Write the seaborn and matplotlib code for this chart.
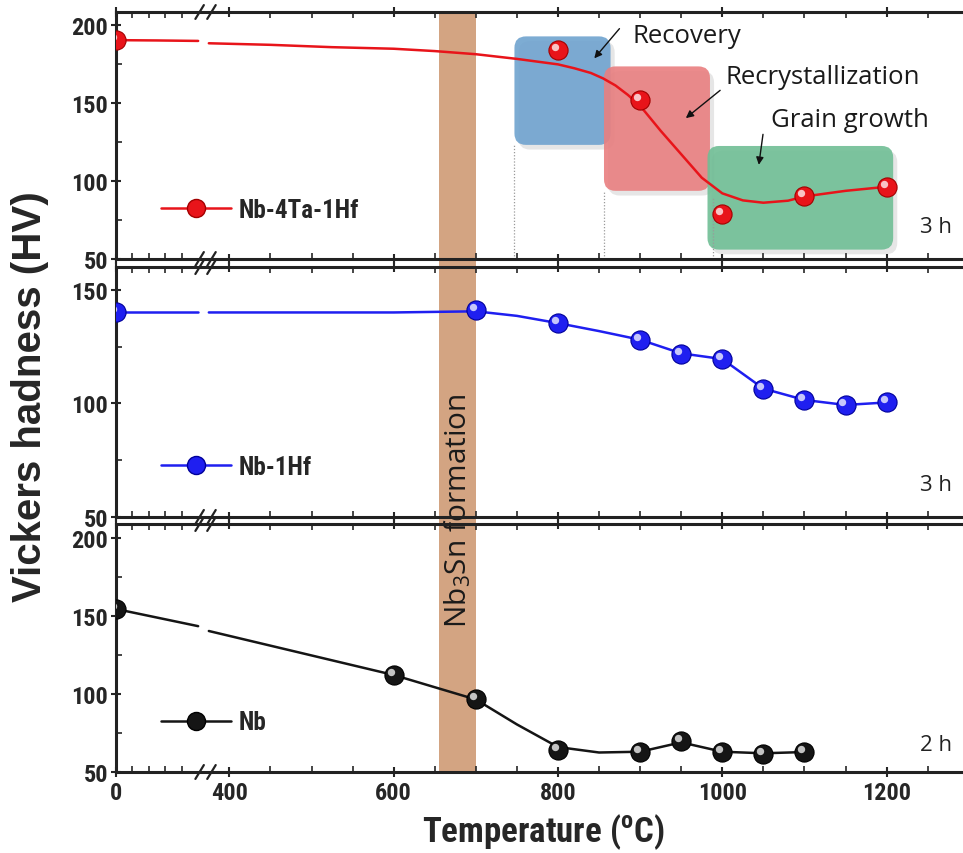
import matplotlib
matplotlib.use("Agg")
import matplotlib.pyplot as plt
import numpy as np
import pandas as pd
import seaborn as sns
from matplotlib import font_manager
from matplotlib.lines import Line2D
from matplotlib.patches import FancyBboxPatch, Rectangle
from matplotlib.transforms import blended_transform_factory, ScaledTranslation

# ---- data ----
temp_ta = [0, 800, 900, 1000, 1100, 1200]
hv_ta = [190, 183.5, 151.5, 78.5, 90.5, 96]
guide_ta_t = [0, 50, 100, 375, 450, 525, 600, 650, 700, 750, 800, 820, 840, 855, 870, 885, 900, 925, 950,
              975, 1000, 1025, 1050, 1080, 1100, 1150, 1200]
guide_ta_hv = [190, 189.8, 189.5, 188, 187, 185.5, 184.5, 183, 181, 178, 174.5, 172, 169, 165.5, 161, 155, 148, 132, 117,
               102, 92, 87.5, 86, 87.3, 90, 93.6, 96.2]

temp_hf = [0, 700, 800, 900, 950, 1000, 1050, 1100, 1150, 1200]
hv_hf = [140, 141, 135.3, 128, 121.7, 119.6, 106.4, 101.5, 99.3, 100.4]
guide_hf_t = [0, 100, 375, 600, 700, 750, 800, 850, 900, 950, 1000, 1025, 1050, 1100, 1150, 1200]
guide_hf_hv = [140, 140, 140, 140, 140.5, 138.5, 135.3, 131.8, 128, 122, 119.5, 113, 106.5, 101.5, 99.3, 100.4]

temp_nb = [0, 600, 700, 800, 900, 950, 1000, 1050, 1100]
hv_nb = [154.5, 112.2, 96.5, 64, 62.8, 70, 62.8, 61.5, 62.8]
guide_nb_t = [0, 100, 375, 600, 700, 750, 800, 850, 900, 950, 1000, 1050, 1100]
guide_nb_hv = [154.5, 143.5, 140.4, 112.2, 96.5, 80.5, 66, 62.5, 63, 69, 63, 62, 62.8]

alloys = ["Nb-4Ta-1Hf", "Nb-1Hf", "Nb"]
anneal_time = ["3 h", "3 h", "2 h"]
ylims = [(50, 208), (50, 160), (50, 209)]
yticks = [[50, 100, 150, 200], [50, 100, 150], [50, 100, 150, 200]]

phase_names = ["Recovery", "Recrystallization", "Grain growth"]
phase_t = [(747, 864), (856, 985), (982, 1208)]
phase_hv = [(123, 192.4), (93.6, 173.2), (56, 122.3)]
nb3sn_band = (655, 700)

xticks_major = [0, 400, 600, 800, 1000, 1200]
xticks_minor = [20, 40, 60, 80] + [t for t in range(450, 1300, 50) if t % 200]

# ---- broken x axis (0..~105 | ~375..1300) ----
LO, HI, SQ = 105.0, 375.0, 8.0


def fwd(x):
    x = np.asarray(x, dtype=float)
    return np.where(x <= LO, x, np.where(x < HI, LO + (x - LO) * SQ / (HI - LO), x - (HI - LO) + SQ))


def inv(u):
    u = np.asarray(u, dtype=float)
    return np.where(u <= LO, u, np.where(u < LO + SQ, LO + (u - LO) * (HI - LO) / SQ, u + (HI - LO) - SQ))


def pick_narrow():
    fonts = font_manager.fontManager.ttflist
    names = {f.name for f in fonts}
    for want in ["Liberation Sans Narrow", "Arial Narrow", "Noto Sans Condensed", "Roboto Condensed",
                 "Open Sans Condensed"]:
        if want in names:
            return want, "normal", True
    for f in fonts:
        if f.name in ("Noto Sans", "Roboto", "Open Sans") and f.stretch in ("condensed", "semi-condensed"):
            return f.name, f.stretch, True
    return "Liberation Sans", "normal", False


sns.set_theme(style="ticks")
narrow_family, narrow_stretch, is_narrow = pick_narrow()
plt.rcParams["font.family"] = [narrow_family, "Liberation Sans", "DejaVu Sans"]
plt.rcParams["font.stretch"] = narrow_stretch
plt.rcParams["font.weight"] = "bold"
plt.rcParams["mathtext.default"] = "regular"
annot_font = ["Open Sans", "Lato", "DejaVu Sans"]

W, H = 963, 854
fig = plt.figure(figsize=(W / 100, H / 100), dpi=100)
frames = [(13, 260), (268, 518), (525, 773)]
left_px = 116
axes = [fig.add_axes([left_px / W, 1 - b / H, 1 - left_px / W, (b - t) / H]) for t, b in frames]

colors = ["#e8141a", "#1f1ff0", "#151515"]
edges = ["#a30000", "#00009a", "#000000"]
series = [
    (temp_ta, hv_ta, guide_ta_t, guide_ta_hv),
    (temp_hf, hv_hf, guide_hf_t, guide_hf_hv),
    (temp_nb, hv_nb, guide_nb_t, guide_nb_hv),
]

tick_size = 17.5
legend_size = 18
legend_px = legend_size * 100 / 72

for i, ax in enumerate(axes):
    ax.set_xscale("function", functions=(fwd, inv))
    ax.set_xlim(0, 1293)
    ax.set_ylim(*ylims[i])
    t_pts, hv_pts, g_t, g_hv = series[i]
    guide = pd.DataFrame({"T": g_t, "HV": g_hv})
    guide["seg"] = np.where(guide["T"] <= LO, 0, 1)
    sns.lineplot(data=guide, x="T", y="HV", units="seg", estimator=None, sort=False,
                 color=colors[i], lw=1.8, ax=ax, zorder=4)
    pts = pd.DataFrame({"T": t_pts, "HV": hv_pts})
    sns.scatterplot(data=pts, x="T", y="HV", s=190, color=colors[i], edgecolor=edges[i],
                    linewidth=0.8, ax=ax, zorder=5, clip_on=True)
    shine = ax.transData + ScaledTranslation(-2.2 / 72, 2.2 / 72, fig.dpi_scale_trans)
    ax.scatter(t_pts, hv_pts, s=28, color="white", alpha=0.75, lw=0, zorder=6, transform=shine,
               clip_on=True)

    ax.set_xticks(xticks_major)
    ax.set_xticks(xticks_minor, minor=True)
    ax.set_yticks(yticks[i])
    ax.set_yticks([v for v in range(75, int(ylims[i][1]), 50)], minor=True)
    ax.tick_params(axis="x", which="major", direction="inout", length=7, width=1.5, top=True,
                   labelsize=tick_size, pad=3)
    ax.tick_params(axis="x", which="minor", direction="in", length=4, width=1.2, top=True)
    ax.tick_params(axis="y", which="major", direction="inout", length=7, width=1.5, labelsize=tick_size, pad=2)
    ax.tick_params(axis="y", which="minor", direction="in", length=4, width=1.2)
    if i < 2:
        ax.tick_params(axis="x", labelbottom=False)
    ax.set_xlabel("")
    ax.set_ylabel("")
    for side in ["left", "top", "bottom"]:
        ax.spines[side].set_linewidth(2.2)
        ax.spines[side].set_color("#222222")
    ax.spines["right"].set_visible(False)
    ax.set_facecolor("none")

    # break marks
    xb = float(fwd(LO + (HI - LO) / 2)) / float(fwd(1293))
    for yb in (0, 1):
        for dx in (-0.007, 0.007):
            ax.plot([xb + dx - 0.005, xb + dx + 0.005], [yb - 0.028, yb + 0.028], color="#222222",
                    lw=1.6, transform=ax.transAxes, clip_on=False, zorder=7)

    handle = Line2D([0], [0], color=colors[i], lw=1.8, marker="o", ms=13, mfc=colors[i], mec=edges[i])
    ax.legend(handles=[handle], labels=[alloys[i]], loc="center left", bbox_to_anchor=(0.053, 0.2),
              frameon=False, handlelength=70 / legend_px, handletextpad=8 / legend_px, borderpad=0,
              borderaxespad=0, numpoints=1,
              prop=dict(weight="bold", size=legend_size, family=plt.rcParams["font.family"],
                        stretch=narrow_stretch))
    ax.text((936 - left_px) / (W - left_px), 0.13 if i < 2 else 0.11, anneal_time[i], transform=ax.transAxes,
            ha="center", va="center", fontsize=16, family=annot_font, weight="normal", color="#222222")

ax_top = axes[0]
# phase boxes with soft shadow
box_colors = ["#6fa3cf", "#e97f80", "#70be95"]
aspect = 0.8215 / 1.565
for (t0, t1), (h0, h1), c in zip(phase_t, phase_hv, box_colors):
    for off, fc, a, z in [((5, -3), "#777777", 0.18, 1), ((0, 0), c, 0.9, 2)]:
        ax_top.add_patch(FancyBboxPatch((t0 + off[0], h0 + off[1]), t1 - t0, h1 - h0,
                                        boxstyle="round,pad=0,rounding_size=14", mutation_aspect=aspect,
                                        fc=fc, ec="none", alpha=a, zorder=z))
for t, top in [(747, 123), (856, 93.6), (989, 89)]:
    ax_top.plot([t, t], [50, top], color="#9a9a9a", lw=0.9, ls=(0, (1, 1.5)), zorder=2.5)

annot_text = [(891, 193), (1004, 167), (1059, 139.5)]
annot_arrow = [((877, 198.7), (842, 177)), ((1000, 159), (953, 139)), ((1050, 131.5), (1044, 108.5))]
for name, (tx, ty), (tail, head) in zip(phase_names, annot_text, annot_arrow):
    ax_top.text(tx, ty, name, ha="left", va="center", fontsize=18.5, family=annot_font,
                weight="normal", color="#1a1a1a", zorder=8)
    ax_top.annotate("", xy=head, xytext=tail,
                    arrowprops=dict(arrowstyle="-|>", color="#111111", lw=1.0, mutation_scale=11),
                    zorder=8)

# Nb3Sn formation band through all three panels (drawn beneath the axes)
ax_bot = axes[2]
band_tr = blended_transform_factory(ax_bot.transData, fig.transFigure)
band = Rectangle((nb3sn_band[0], 1 - 773 / H), nb3sn_band[1] - nb3sn_band[0], (773 - 13) / H,
                 transform=band_tr, fc="#cf9a74", ec="none", alpha=0.9, zorder=-5)
fig.patches.append(band)
fig.text(sum(nb3sn_band) / 2, 1 - 511 / H, "Nb$_{3}$Sn formation", transform=band_tr,
         rotation=90, ha="center", va="center", fontsize=21.5, family=annot_font,
         weight="normal", color="#1a1a1a", zorder=-4)

fig.text(30 / W, 1 - 397 / H, "Vickers hadness (HV)", rotation=90, ha="center", va="center",
         fontsize=29, weight="bold", family=["Liberation Sans", "DejaVu Sans"], stretch="normal")
fig.text(543 / W, 1 - 832 / H, "Temperature ($^{o}$C)", ha="center", va="center",
         fontsize=25, weight="bold")

fig.savefig("out.png", dpi=100)
